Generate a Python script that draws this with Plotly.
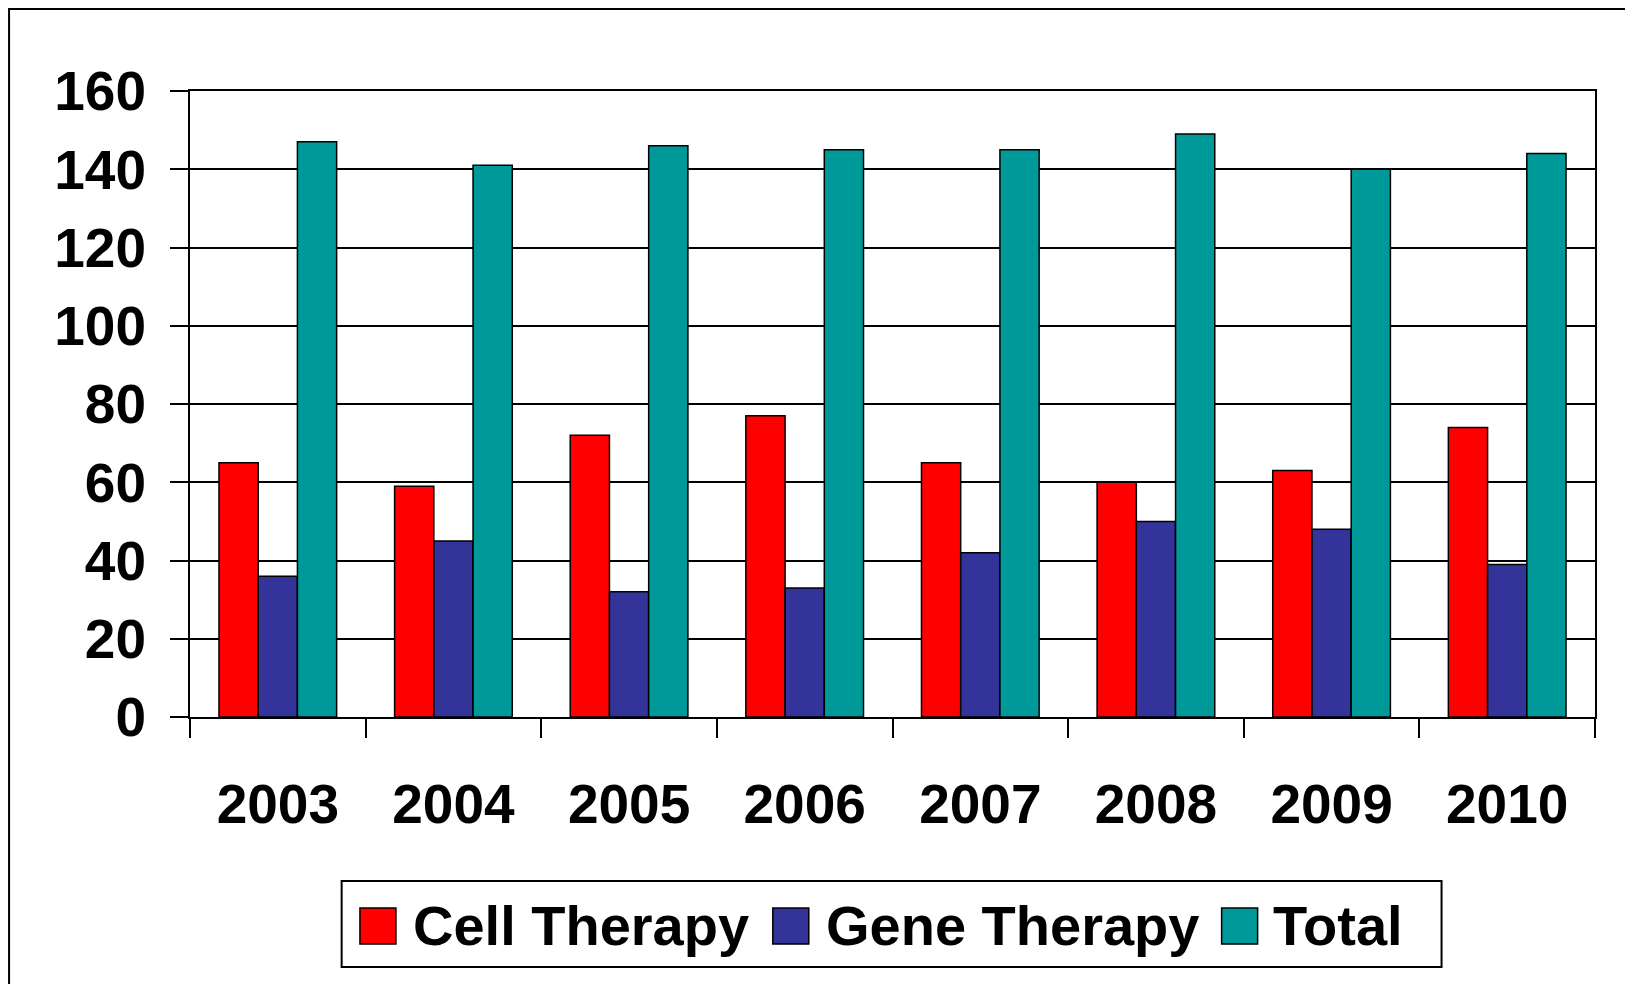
import plotly.graph_objects as go

years = ["2003", "2004", "2005", "2006", "2007", "2008", "2009", "2010"]
cell_therapy = [65, 59, 72, 77, 65, 60, 63, 74]
gene_therapy = [36, 45, 32, 33, 42, 50, 48, 39]
total = [147, 141, 146, 145, 145, 149, 140, 144]
series_names = ["Cell Therapy", "Gene Therapy", "Total"]
series_colors = ["#FF0000", "#333399", "#009999"]

W, H = 1633, 984
O = 8  # page body margin offset
# plot area in page pixels
PX0, PX1, PY0, PY1 = 190, 1595.5, 91, 716.7
L = PX0 - O
T = PY0 - O
R = W - (PX1 - O)
B = H - (PY1 - O)
PW = PX1 - PX0
PH = PY1 - PY0


def px(x):
    return (x - PX0) / PW


def py(y):
    return (PY1 - y) / PH


FONT = "Liberation Sans, Arial, sans-serif"

fig = go.Figure()
for name, vals, col in zip(series_names, [cell_therapy, gene_therapy, total], series_colors):
    fig.add_trace(go.Bar(
        x=years, y=vals, name=name,
        marker=dict(color=col, line=dict(color="black", width=1.5)),
        showlegend=False,
    ))

shapes = []
# outer frame
shapes.append(dict(type="rect", xref="paper", yref="paper",
                   x0=px(O + 1), x1=px(1630), y0=py(1010), y1=py(O + 1),
                   line=dict(color="black", width=2), fillcolor="rgba(0,0,0,0)", layer="below"))
# legend box
shapes.append(dict(type="rect", xref="paper", yref="paper",
                   x0=px(341.7), x1=px(1442), y0=py(966.7), y1=py(880.7),
                   line=dict(color="black", width=2), fillcolor="white"))

annotations = []
sq_x = [360, 773, 1222]
txt_x = [411, 824, 1271]
for name, col, sx, tx in zip(series_names, series_colors, sq_x, txt_x):
    shapes.append(dict(type="rect", xref="paper", yref="paper",
                       x0=px(sx), x1=px(sx + 36), y0=py(943.5), y1=py(907.5),
                       line=dict(color="black", width=1.5), fillcolor=col))
    annotations.append(dict(text=name, xref="paper", yref="paper",
                            x=px(tx), y=py(925.5), xanchor="left", yanchor="middle",
                            showarrow=False,
                            font=dict(family=FONT, size=56, color="black", weight="bold")))

fig.update_layout(
    width=W, height=H,
    margin=dict(l=L, r=R, t=T, b=B, pad=0),
    paper_bgcolor="white", plot_bgcolor="white",
    barmode="group", bargap=0.33, bargroupgap=0,
    shapes=shapes, annotations=annotations,
    showlegend=False,
)
fig.update_xaxes(
    type="category", tickson="boundaries",
    showline=True, linecolor="black", linewidth=2, mirror=True,
    ticks="outside", ticklen=19, tickwidth=2, tickcolor="black",
    showgrid=False, ticklabelstandoff=38,
    tickfont=dict(family=FONT, size=55, color="black", weight="bold"),
)
fig.update_yaxes(
    range=[0, 160], dtick=20, tick0=0,
    showline=True, linecolor="black", linewidth=2, mirror=True,
    ticks="outside", ticklen=18, tickwidth=2, tickcolor="black",
    showgrid=True, gridcolor="black", gridwidth=2,
    zeroline=False, ticklabelstandoff=13,
    tickfont=dict(family=FONT, size=55, color="black", weight="bold"),
)

fig.write_html("out.html")
